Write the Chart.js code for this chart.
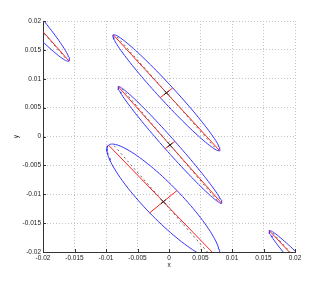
<!DOCTYPE html>
<html>
<head>
<meta charset="utf-8">
<script src="https://cdn.jsdelivr.net/npm/chart.js@4/dist/chart.umd.min.js"></script>
<style>
html, body { margin: 0; padding: 0; background: #fff; }
</style>
</head>
<body>
<canvas id="myChart" width="327" height="284"></canvas>
<script>
// Ellipse parameters (data units), one entry per ellipse
let centerX = [-0.02407, -0.0004, 0.00016, -0.0009, 0.0244];
let centerY = [0.02316, 0.00757, -0.00147, -0.01129, -0.02617];
let semiMajor = [0.013, 0.0131, 0.0130, 0.0131, 0.013];
let semiMinor = [0.0014, 0.0013, 0.0010, 0.0029, 0.001];
let angleDeg = [-50.9, -49.9, -50.9, -48.4, -49.3];
let trackAngleDeg = [-51.5, -51, -52, -51.2, -50];

// Tick labels
let tickValues = [-0.02, -0.015, -0.01, -0.005, 0, 0.005, 0.01, 0.015, 0.02];

let ctx = document.getElementById("myChart");
let datasets = [];

function pt(i, along, across, deg) {
    let th = deg * Math.PI / 180;
    return {
        x: centerX[i] + along * Math.cos(th) - across * Math.sin(th),
        y: centerY[i] + along * Math.sin(th) + across * Math.cos(th)
    };
}

function line(data, color, dash, order) {
    return {
        data: data,
        showLine: true,
        borderColor: color,
        borderWidth: 1,
        borderDash: dash,
        pointRadius: 0,
        fill: false,
        order: order
    };
}

centerX.forEach((cx, i) => {
    // ellipse outline
    let outline = [];
    for (let t = 0; t <= 360; t += 3) {
        let r = t * Math.PI / 180;
        outline.push(pt(i, semiMajor[i] * Math.cos(r), semiMinor[i] * Math.sin(r), angleDeg[i]));
    }
    datasets.push(line(outline, "#3333ff", [], 4));
    // major and minor axis
    datasets.push(line([pt(i, -semiMajor[i], 0, angleDeg[i]), pt(i, semiMajor[i], 0, angleDeg[i])], "#ff2020", [], 3));
    datasets.push(line([pt(i, 0, -semiMinor[i], angleDeg[i]), pt(i, 0, semiMinor[i], angleDeg[i])], "#ff2020", [], 3));
    // black dashed track
    let L = semiMajor[i] * 0.95;
    datasets.push(line([pt(i, -L, 0, trackAngleDeg[i]), pt(i, L, 0, trackAngleDeg[i])], "#666", [2, 3], 1));
    // small black cross at the centre
    datasets.push(line([pt(i, 0, -0.0005, angleDeg[i]), pt(i, 0, 0.0005, angleDeg[i])], "#222", [], 1));
    datasets.push(line([pt(i, -0.0006, 0, angleDeg[i]), pt(i, 0.0006, 0, angleDeg[i])], "#222", [], 1));
});

// ticks pointing inward, like the original
const inwardTicks = {
    id: "inwardTicks",
    afterDraw(chart) {
        let c = chart.ctx;
        let area = chart.chartArea;
        c.save();
        c.strokeStyle = "#333";
        c.lineWidth = 1;
        chart.scales.x.ticks.forEach((t) => {
            let px = Math.round(chart.scales.x.getPixelForValue(t.value)) + 0.5;
            c.beginPath();
            c.moveTo(px, area.bottom);
            c.lineTo(px, area.bottom - 3);
            c.stroke();
        });
        chart.scales.y.ticks.forEach((t) => {
            let py = Math.round(chart.scales.y.getPixelForValue(t.value)) + 0.5;
            c.beginPath();
            c.moveTo(area.left, py);
            c.lineTo(area.left + 3, py);
            c.stroke();
        });
        c.restore();
    }
};

let font = { family: "'Liberation Sans', Arial, sans-serif", size: 6.5 };

function axis(title, titlePadding, fit) {
    return {
        type: "linear",
        min: -0.02,
        max: 0.02,
        afterBuildTicks: (scale) => {
            scale.ticks = tickValues.map((v) => ({ value: v }));
        },
        afterFit: fit,
        ticks: {
            color: "#222",
            font: font,
            padding: 2,
            maxRotation: 0,
            autoSkip: false,
            callback: (v) => String(v)
        },
        grid: { color: "#c4c4c4", lineWidth: 1, drawTicks: false },
        border: { display: true, color: "#333", width: 1, dash: [1, 2] },
        title: { display: true, text: title, color: "#222", font: font, padding: titlePadding }
    };
}

new Chart(ctx, {
    type: "scatter",
    data: { datasets },
    options: {
        responsive: false,
        animation: false,
        events: [],
        layout: { padding: { left: 0, right: 32, top: 21, bottom: 0 } },
        plugins: { legend: { display: false }, tooltip: { enabled: false } },
        scales: {
            x: axis("x", { top: 0, bottom: 15 }, (s) => { s.height = 32; }),
            y: axis("y", { top: 12, bottom: 0 }, (s) => { s.width = 43; })
        }
    },
    plugins: [inwardTicks]
});
</script>
</body>
</html>
